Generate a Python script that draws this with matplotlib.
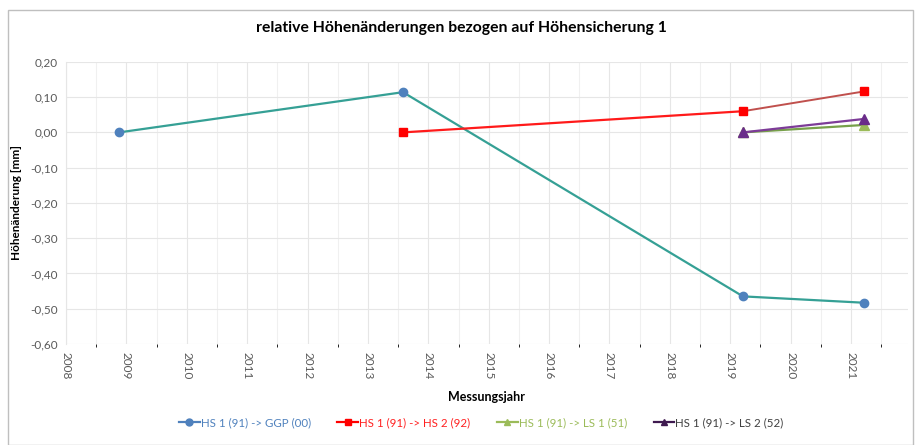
import matplotlib
matplotlib.use("Agg")
import matplotlib.pyplot as plt
from matplotlib.ticker import FuncFormatter, MultipleLocator
from matplotlib.patches import Rectangle

plt.rcParams['font.family'] = ['Lato', 'DejaVu Sans']

# measurement dates (decimal years) and relative height changes [mm]
x_ggp = [2008.88, 2013.58, 2019.21, 2021.21]
y_ggp = [0.000, 0.114, -0.465, -0.483]

x_hs2 = [2013.58, 2019.21, 2021.21]
y_hs2 = [0.000, 0.060, 0.116]

x_ls1 = [2019.21, 2021.21]
y_ls1 = [0.000, 0.021]

x_ls2 = [2019.21, 2021.21]
y_ls2 = [0.000, 0.038]

labels = ["HS 1 (91) -> GGP (00)", "HS 1 (91) -> HS 2 (92)",
          "HS 1 (91) -> LS 1 (51)", "HS 1 (91) -> LS 2 (52)"]
years = list(range(2008, 2022))

fig = plt.figure(figsize=(9.22, 4.45), dpi=100)
fig.patches.append(Rectangle((8 / 922, 0.0), 905 / 922, 1 - 10 / 445,
                             transform=fig.transFigure, fill=False,
                             edgecolor="#bfbfbf", linewidth=1.0))
ax = fig.add_axes([0.0716, 0.227, 0.913, 0.634])

ax.plot(x_ggp, y_ggp, color="#35a095", lw=1.6, marker="o", ms=6,
        mfc="#4f81bd", mec="#4f81bd", label=labels[0], zorder=3)
ax.plot(x_hs2[:2], y_hs2[:2], color="#ff1a1a", lw=1.6, zorder=3)
ax.plot(x_hs2[1:], y_hs2[1:], color="#c0504d", lw=1.4, zorder=3)
ax.plot(x_hs2, y_hs2, ls="none", marker="s", ms=6, color="#ff0000", zorder=4)
ax.plot(x_ls1, y_ls1, color="#77a04a", lw=1.6, marker="^", ms=7,
        mfc="#9bbb59", mec="#9bbb59", zorder=3)
ax.plot(x_ls2, y_ls2, color="#7d3c98", lw=1.6, marker="^", ms=7,
        mfc="#6a2c8a", mec="#6a2c8a", zorder=3)

# legend proxies
h1, = ax.plot([], [], color="#4f81bd", lw=1.6, marker="o", ms=5)
h2, = ax.plot([], [], color="#ff0000", lw=1.6, marker="s", ms=5)
h3, = ax.plot([], [], color="#9bbb59", lw=1.6, marker="^", ms=5)
h4, = ax.plot([], [], color="#3f1a50", lw=1.6, marker="^", ms=5)
leg = fig.legend([h1, h2, h3, h4], labels, loc="center", ncol=4,
                 bbox_to_anchor=(0.522, 1 - 423 / 445), frameon=False,
                 fontsize=8.3, handlelength=1.8, columnspacing=2.3,
                 handletextpad=0.1)
for txt, c in zip(leg.get_texts(), ["#4f81bd", "#ff2020", "#9bbb59", "#404040"]):
    txt.set_color(c)

ax.set_xlim(2008, 2021.94)
ax.set_ylim(-0.6, 0.2)
ax.set_xticks(years)
ax.xaxis.set_minor_locator(MultipleLocator(0.5))
ax.yaxis.set_major_locator(MultipleLocator(0.1))
ax.yaxis.set_major_formatter(FuncFormatter(lambda v, p: f"{v:.2f}".replace(".", ",").replace("-0,00", "0,00")))
ax.set_xticklabels([str(y) for y in years], rotation=-90)
ax.tick_params(axis="both", length=0, labelsize=8.5, labelcolor="#595959", pad=6)

ax.grid(True, which="major", color="#e6e6e6", lw=0.8)
ax.grid(True, which="minor", axis="x", color="#f0f0f0", lw=0.8)
ax.set_axisbelow(True)
for s in ["top", "right", "bottom"]:
    ax.spines[s].set_visible(False)
ax.spines["left"].set_color("#e6e6e6")

ax.set_xlabel("Messungsjahr", fontsize=9, fontweight="bold", labelpad=8)
ax.set_ylabel("Höhenänderung [mm]", fontsize=8.5, fontweight="bold", labelpad=6)
fig.text(0.5, 1 - 28 / 445, "relative Höhenänderungen bezogen auf Höhensicherung 1",
         ha="center", va="center", fontsize=11.3, fontweight="bold")

fig.savefig("out.png", dpi=100)
